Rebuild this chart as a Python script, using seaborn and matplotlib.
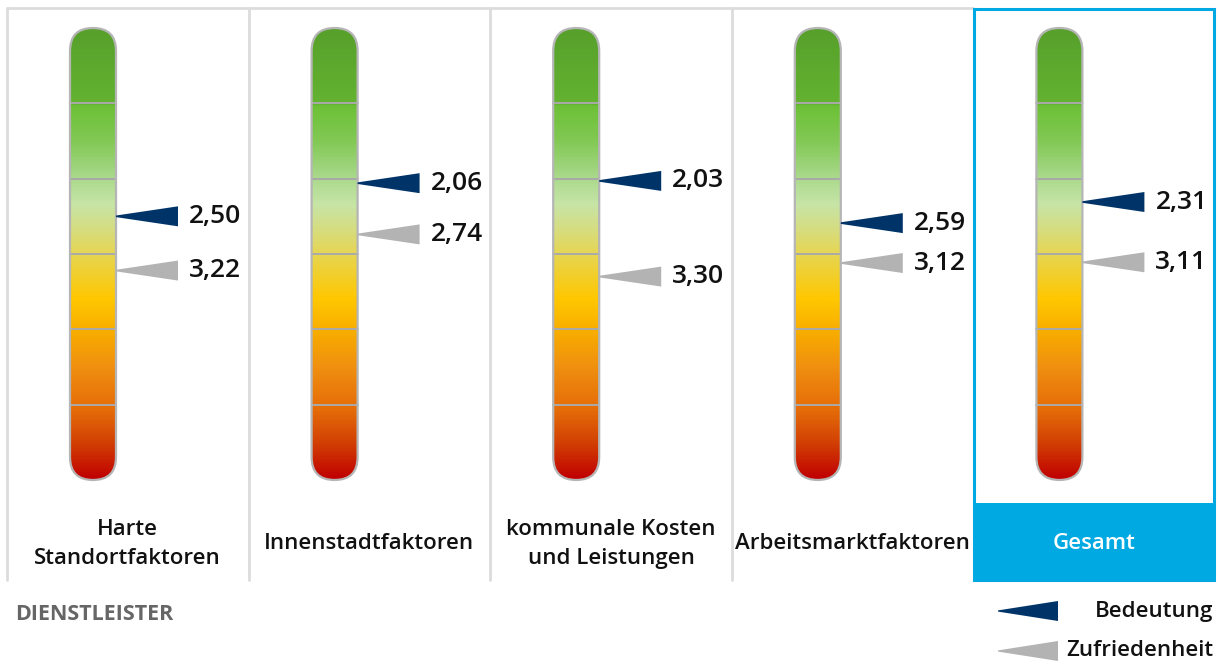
import numpy as np
import pandas as pd
import matplotlib
matplotlib.use("Agg")
import matplotlib.pyplot as plt
import seaborn as sns
from matplotlib.patches import FancyBboxPatch, Rectangle
from matplotlib.colors import LinearSegmentedColormap

sns.set_theme(style="white")
plt.rcParams['font.family'] = ['Open Sans', 'DejaVu Sans']

# ---- data ----
categories = ["Harte\nStandortfaktoren", "Innenstadtfaktoren",
              "kommunale Kosten\nund Leistungen", "Arbeitsmarktfaktoren", "Gesamt"]
bedeutung = [2.50, 2.06, 2.03, 2.59, 2.31]
zufriedenheit = [3.22, 2.74, 3.30, 3.12, 3.11]
scale_min, scale_max = 0, 6
grid_ticks = [1, 2, 3, 4, 5]
title = "DIENSTLEISTER"
legend_labels = ["Bedeutung", "Zufriedenheit"]

df = pd.DataFrame({"cat": categories, "bedeutung": bedeutung, "zufriedenheit": zufriedenheit})

# ---- style ----
W, H = 1219, 664
PX_PER_UNIT = 75.33
TOP_PX = 28
FRAME_TOP, FRAME_BOT, FRAME_LEFT = 8, 580, 7
PANEL_W = (1215 - FRAME_LEFT) / 5
BAR_X0, BAR_W = 63, 46
TRI_LEN, TRI_HALF = 62, 10
NAVY = "#003468"
GREY = "#b3b3b3"
BLUE = "#00a9e2"
FRAME = "#dcdcdc"

grad = LinearSegmentedColormap.from_list("therm", [
    (0.0, "#57a02b"), (0.165, "#63b331"), (0.17, "#6cc036"), (0.25, "#82c955"),
    (0.33, "#aad98c"), (0.39, "#c7e5a7"), (0.45, "#d8dc7c"), (0.5, "#e6d652"),
    (0.6, "#ffc700"), (0.68, "#f7aa00"), (0.75, "#f09010"), (0.85, "#e46a08"),
    (0.92, "#d24004"), (1.0, "#c00000")])

fig = plt.figure(figsize=(W / 100, H / 100), dpi=100)
fig.patch.set_facecolor("white")

# overlay for frames (pixel coords)
ov = fig.add_axes([0, 0, 1, 1], zorder=0)
ov.set_xlim(0, W)
ov.set_ylim(H, 0)
ov.axis("off")

yv_top = (FRAME_TOP - TOP_PX) / PX_PER_UNIT
yv_bot = (FRAME_BOT - TOP_PX) / PX_PER_UNIT

for i, row in df.iterrows():
    left_px = FRAME_LEFT + i * PANEL_W
    ax = fig.add_axes([left_px / W, 1 - FRAME_BOT / H, PANEL_W / W, (FRAME_BOT - FRAME_TOP) / H], zorder=2)
    ax.set_xlim(0, PANEL_W)
    ax.set_ylim(yv_bot, yv_top)
    ax.axis("off")
    ax.patch.set_alpha(0)

    x0, x1 = BAR_X0, BAR_X0 + BAR_W
    # gradient
    g = np.linspace(0, 1, 400).reshape(-1, 1)
    im = ax.imshow(g, cmap=grad, aspect="auto", extent=(x0, x1, scale_max, scale_min),
                   interpolation="bilinear", zorder=1)
    box = FancyBboxPatch((x0, scale_min), BAR_W, scale_max - scale_min,
                         boxstyle=f"round,pad=0,rounding_size={BAR_W/2}",
                         mutation_aspect=1 / PX_PER_UNIT,
                         facecolor="none", edgecolor="#b5b5b5", lw=1.6, zorder=3)
    ax.add_patch(box)
    im.set_clip_path(box)
    for t in grid_ticks:
        ax.plot([x0, x1], [t, t], color="#a9a9a9", lw=1.4, zorder=2)

    # markers
    for val, col in [(row["bedeutung"], NAVY), (row["zufriedenheit"], GREY)]:
        hv = TRI_HALF / PX_PER_UNIT
        tip = 0.8 / PX_PER_UNIT
        ax.fill([x1, x1 + TRI_LEN, x1 + TRI_LEN, x1],
                [val - tip, val - hv, val + hv, val + tip],
                color=col, lw=0, zorder=4)
        ax.text(x1 + TRI_LEN + 11, val, f"{val:.2f}".replace(".", ","),
                fontsize=19, fontweight="semibold", color="#111111",
                va="center", ha="left", zorder=5)

    # labels
    is_total = (i == len(df) - 1)
    lab_y = (544 - TOP_PX) / PX_PER_UNIT
    ax.text(PANEL_W / 2, lab_y, row["cat"], ha="center", va="center",
            fontsize=16, fontweight="semibold", linespacing=1.45,
            color="white" if is_total else "#111111", zorder=5)

    if is_total:
        ov.add_patch(Rectangle((left_px, 503), 1214 - left_px, FRAME_BOT - 503,
                               facecolor=BLUE, edgecolor="none", zorder=1))
        ov.add_patch(Rectangle((left_px + 1, FRAME_TOP + 1), 1214 - left_px - 1, FRAME_BOT - FRAME_TOP - 1,
                               facecolor="none", edgecolor=BLUE, lw=2.2, zorder=2))
    else:
        ov.plot([left_px, left_px], [FRAME_TOP, FRAME_BOT], color=FRAME, lw=2, zorder=1)
        ov.plot([left_px, left_px + PANEL_W], [FRAME_TOP, FRAME_TOP], color=FRAME, lw=2, zorder=1)

# title
ov.text(15, 614, title, fontsize=15.5, fontweight="bold", color="#666666", ha="left", va="center")

# legend
for k, (lab, col) in enumerate(zip(legend_labels, [NAVY, GREY])):
    yc = 611 + k * 40
    ov.fill([998, 1058, 1058, 998], [yc - 0.6, yc - 10, yc + 10, yc + 0.6], color=col, lw=0)
    ov.text(1213, yc, lab, fontsize=16, fontweight="semibold", color="#111111", ha="right", va="center")

fig.savefig("out.png", dpi=100, facecolor="white")
